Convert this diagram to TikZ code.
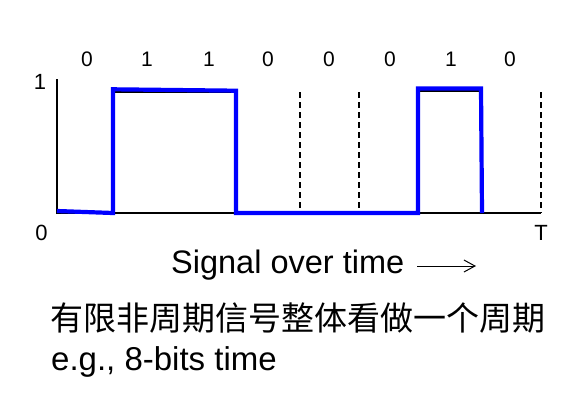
\documentclass[tikz,border=0pt]{standalone}
\usepackage{fontspec}
\setmainfont{Liberation Sans}
\newfontfamily\cjk{Noto Sans CJK SC}
\usetikzlibrary{arrows.meta}
\begin{document}
\begin{tikzpicture}[x=1pt,y=-1pt,
  bitlbl/.style={font=\fontsize{21}{25}\selectfont, inner sep=0pt, anchor=base},
  axlbl/.style={font=\fontsize{22}{26}\selectfont, inner sep=0pt, anchor=base},
  axisline/.style={line width=1.3pt, black},
  dashline/.style={line width=1.2pt, black, dash pattern=on 6pt off 4pt},
  sigline/.style={line width=4.2pt, blue, line join=miter},
  bigtext/.style={inner sep=0pt, anchor=base west}]
\useasboundingbox (0,0) rectangle (577,405);
% axes
\coordinate (o) at (57,213);
\coordinate (ytop) at (57,79);
\coordinate (xend) at (541,213);
\draw[axisline] (ytop) -- (o) -- (xend);
% dashed bit boundaries
\foreach \x in {300,359,541}{
  \draw[dashline] (\x,92) -- (\x,213);
}
% underlying black pulse edges
\draw[line width=1.2pt] (113,213) -- (113,92) -- (236,92) -- (236,213);
\draw[line width=1.2pt] (418,213) -- (418,91) -- (481,91) -- (481,213);
% blue signal
\draw[sigline] (57,211) -- (113,213) -- (113,89.3) -- (236,90.7) -- (236,213)
  -- (418,213) -- (418,88.5) -- (481,88.5) -- (482,213);
% bit labels
\node[bitlbl] (b1) at (87,66) {0};
\node[bitlbl] (b2) at (147,66) {1};
\node[bitlbl] (b3) at (209,66) {1};
\node[bitlbl] (b4) at (268,66) {0};
\node[bitlbl] (b5) at (329,66) {0};
\node[bitlbl] (b6) at (390,66) {0};
\node[bitlbl] (b7) at (451,66) {1};
\node[bitlbl] (b8) at (510,66) {0};
% axis labels
\node[axlbl] (one) at (40,89) {1};
\node[axlbl] (zero) at (41.5,240.5) {0};
\node[axlbl] (tee) at (541,240.5) {T};
% captions
\node[bigtext, font=\fontsize{32.5}{38}\selectfont] (sig) at (171,273.5) {Signal over time};
\coordinate (a1) at (417,266);
\coordinate (a2) at (476,266);
\draw[line width=1pt, -{Straight Barb[length=11pt,width=12pt,line width=1pt]}] (a1) -- (a2);
\node[bigtext, font=\cjk\fontsize{33}{40}\selectfont] (cn) at (50,330) {有限非周期信号整体看做一个周期};
\node[bigtext, font=\fontsize{33}{38}\selectfont] (eg) at (51,370.5) {e.g., 8-bits time};
\end{tikzpicture}
\end{document}
